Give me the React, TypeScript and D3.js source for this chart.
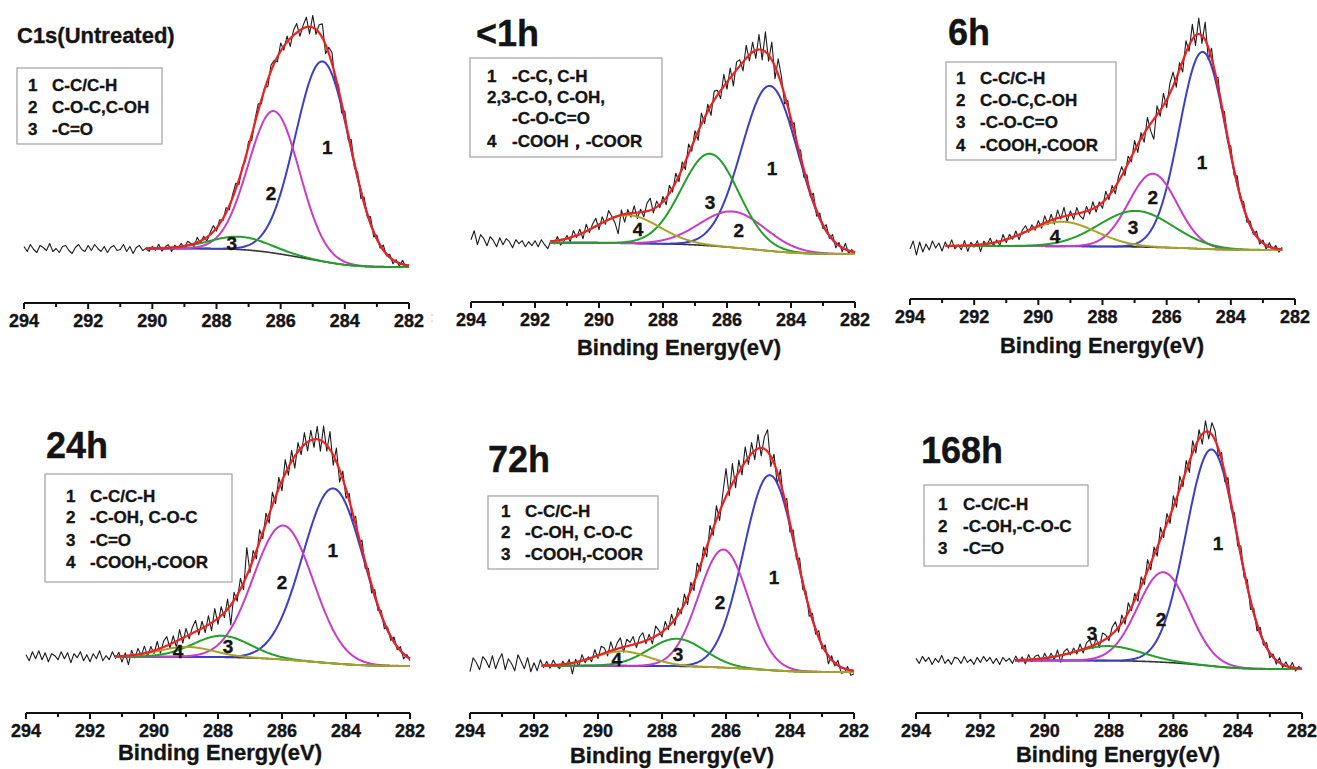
import React from "react";
import * as d3 from "d3";

// ---------------- data ----------------
const panelTitles = ["C1s(Untreated)", "<1h", "6h", "24h", "72h", "168h"];
const majorTicks = [294, 292, 290, 288, 286, 284, 282];
const minorTicks = [293, 291, 289, 287, 285, 283];
const axisTitle = "Binding Energy(eV)";
const showAxisTitle = [false, true, true, true, true, true];

// fitted components (binding energy centre, height in a.u., FWHM in eV)
const peakCenters = [
  [284.69, 286.21, 287.27],
  [284.66, 285.82, 286.53, 289.1],
  [284.88, 286.43, 286.96, 289.27],
  [284.4, 285.96, 287.88, 288.98],
  [284.63, 286.08, 287.54, 289.26],
  [284.81, 286.31, 288.02],
];
const peakHeights = [
  [200, 142, 12.8],
  [165, 36, 92, 28],
  [197, 73.5, 36, 24.5],
  [175, 134, 21.5, 10],
  [195, 118, 27.5, 14.5],
  [216.6, 90, 14.6],
];
const peakFwhm = [
  [2.0, 1.87, 2.2],
  [2.08, 2.4, 2.1, 2.3],
  [1.71, 1.77, 2.7, 2.5],
  [2.24, 2.2, 2.1, 2.0],
  [1.93, 1.82, 2.03, 2.0],
  [1.87, 1.87, 2.4],
];
const fitStartEV = [290.2, 291.53, 292.9, 291.22, 291.76, 290.92];
const dataEndEV = [282, 282, 282.4, 282, 282, 282];
const backgroundStep = [18.5, 11.3, 4, 9.3, 6.3, 8.6];
const rawStartEV = 294;
const rawStepEV = 0.1;

// residuals of the measured spectrum about the fit, every 0.1 eV from 294 eV
const residuals1 = [
  2, -3, 4, -1, -4, 3, 1, -2, 5, -3,
  0, -4, 2, 3, -2, -5, 1, 4, -1, -3,
  3, -2, 4, 0, -3, 2, -4, 1, 3, -2,
  -1, 4, -3, 2, -5, 1, 3, -2, 0, -3,
  2, -2, 4, -3, 1, 3, -4, 2, -1, 3,
  -2, 4, 1, -3, 5, -2, 3, -4, 2, 6,
  -3, 4, -2, 5, -4, 3, 6, -5, 2, -3,
  5, -6, 3, 7, -4, 2, -7, 6, 3, -5,
  8, -4, 6, -8, 5, 9, -6, 3, 10, -7,
  12, -5, 8, 14, -9, 6, 11, -8, 4, -10,
  7, -6, 9, -4, 5, -8, 6, -3, 7, -5,
  4, -3, 5, -2, 3, -4, 2, -3, 4, -2,
  1,
];
const residuals2 = [
  3, 12, -2, 8, 4, -3, 6, 2, -4, 5,
  -2, 4, 1, -5, 3, -1, 2, -4, 1, -3,
  2, -4, 3, -2, -6, 1, -3, 4, -5, -2,
  3, -4, 6, -2, 5, -6, 7, -3, 4, 8,
  -5, 6, -3, 9, 2, -6, -18, 5, -8, 4,
  -4, 7, -6, 3, -5, 8, 12, -4, 6, -3,
  5, -7, 8, -4, 9, -6, 7, -8, 10, -5,
  8, -9, 11, -6, 7, -10, 9, 5, -8, 12,
  -7, 10, -12, 8, 6, -9, 13, -6, 10, -8,
  15, -10, 20, -6, 18, -12, 16, 8, -9, 6,
  -7, 9, -5, 7, -8, 6, -4, 8, -6, 5,
  -4, 6, -3, 5, -5, 3, -4, 6, -3, 2,
  -2,
];
const residuals3 = [
  -3, 5, -9, 4, -6, 2, -4, 5, -2, 3,
  -5, 4, -2, 6, -3, 1, -4, 5, -6, 3,
  -2, 4, -7, 3, -1, 5, -3, 2, -4, 6,
  -3, 4, -2, 5, -5, 3, 6, -2, 4, -3,
  5, -4, 7, -3, 6, -5, 8, -2, 9, -6,
  4, -5, 6, -3, -7, 5, -4, 7, -5, 3,
  -6, 8, -4, 6, -7, 5, 9, -6, 7, -5,
  10, -8, 6, -9, 11, -7, -20, 9, -6, 12,
  -8, 10, 14, -9, 7, -11, 12, -6, 15, -10,
  16, -8, 18, -12, 10, -7, 9, -6, 8, -5,
  7, -6, 8, -4, 6, -5, 4, -3, 5, -4,
  3, -4, 4, -2, 3, -3, 2,
];
const residuals4 = [
  2, -4, 5, -2, 6, -3, 4, -5, 3, 1,
  -3, 5, -2, 4, -6, 3, -1, 5, -4, 2,
  -5, 3, -2, 6, -4, 1, -3, 5, -2, 4,
  -6, 3, -9, 5, -3, 6, -2, 7, -4, 5,
  -3, 8, -5, 6, 9, -4, 7, -6, 10, -5,
  8, -4, 6, 11, -5, 7, -6, 9, -8, 12,
  -6, 9, -5, 10, -20, 8, -6, 11, -7, 28,
  -5, 9, -8, 12, -6, 10, -9, 13, -7, 11,
  -10, 14, -8, 11, -12, 9, -7, 12, -9, 10,
  -8, 13, -11, 16, -6, 18, -10, 14, -12, 8,
  -9, 7, -10, 8, -6, 9, -7, 5, -8, 6,
  -5, 4, -6, 3, -4, 5, -3, 4, -5, 2,
  -2,
];
const residuals5 = [
  -6, 8, 3, -4, 9, 5, -2, 10, -3, 6,
  12, -4, 7, 2, -5, 11, 4, -3, 8, -6,
  3, -5, 6, -2, 4, -3, 5, -1, -4, 3,
  -2, 4, -11, 3, -5, 6, -3, 2, -4, 7,
  -3, 8, 5, -4, 9, -2, 6, 10, -5, 7,
  3, 8, -4, 6, 9, -3, 5, -6, 10, 4,
  -5, 8, -3, 9, -6, 7, -4, 10, -7, 8,
  -8, 11, -6, 9, -10, 12, -7, 14, -9, 10,
  28, -6, 20, -10, 12, -8, 15, -7, 11, -9,
  14, -8, 12, 22, -10, 9, -12, 13, -7, 10,
  -9, 8, -6, 10, -7, 5, -8, 6, -5, 7,
  -4, 6, -8, 4, -3, 5, -6, -4, 3, -5,
  -3,
];
const residuals6 = [
  2, -3, 4, -1, 3, -4, 2, -2, 5, -3,
  1, -4, 3, 2, -3, 4, -2, 1, -4, 3,
  -2, 4, -1, 3, -3, 2, -4, 3, -1, 2,
  -3, 4, -2, 3, -4, 5, -2, 3, 4, -3,
  5, -2, 4, -3, 6, -7, 3, 5, -2, 4,
  -3, 6, -4, 5, 7, -3, 6, -5, 8, 4,
  -4, 7, 9, -5, 8, -6, 10, -4, 7, -8,
  9, -6, 11, -7, 8, -9, 12, -6, 10, -8,
  11, -9, 13, -7, 10, -11, 12, -8, 9, -10,
  11, -7, 12, 9, -8, 7, -9, 10, -6, 8,
  -8, 9, -6, 7, -9, 5, -7, 6, -4, 5,
  -5, 3, -4, 5, -3, 4, -2, 5, -3, 2,
  -1,
];
const residuals = [residuals1, residuals2, residuals3, residuals4, residuals5, residuals6];

// legends
const legendNums = [
  ["1", "2", "3"],
  ["1", "2,3-C-O, C-OH,", "", "4"],
  ["1", "2", "3", "4"],
  ["1", "2", "3", "4"],
  ["1", "2", "3"],
  ["1", "2", "3"],
];
const legendTexts = [
  ["C-C/C-H", "C-O-C,C-OH", "-C=O"],
  ["-C-C, C-H", "", "-C-O-C=O", "-COOH，-COOR"],
  ["C-C/C-H", "C-O-C,C-OH", "-C-O-C=O", "-COOH,-COOR"],
  ["C-C/C-H", "-C-OH, C-O-C", "-C=O", "-COOH,-COOR"],
  ["C-C/C-H", "-C-OH, C-O-C", "-COOH,-COOR"],
  ["C-C/C-H", "-C-OH,-C-O-C", "-C=O"],
];
// peak number annotations, placed in data coordinates (eV, a.u.)
const peakLabelEV = [
  [284.55, 286.3, 287.52],
  [284.59, 285.63, 286.53, 288.78],
  [284.9, 286.43, 287.05, 289.48],
  [284.41, 286.0, 287.69, 289.25],
  [284.5, 286.19, 287.5, 289.41],
  [284.61, 286.38, 288.53],
];
const peakLabelI = [
  [120, 74, 24],
  [86, 24, 52, 25],
  [88, 53, 23, 14],
  [116, 84, 20, 15],
  [95, 70, 18, 13],
  [126, 50, 36],
];

// ---------------- layout / style ----------------
const axisLeftPx = [24, 471, 910, 26, 470, 916];
const axisRightPx = [409, 855, 1295, 410, 854, 1302];
const axisYPx = [303, 302, 299, 713, 713, 713];
const baseYPx = [267, 254, 250, 666, 672, 669];
const titleXPx = [17, 476, 948, 46, 488, 921];
const titleYPx = [43, 46, 45, 458, 472, 463];
const titleSize = [22, 36, 36, 36, 36, 36];
const legendBoxPx = [
  [17, 68, 162, 144],
  [470, 58, 662, 157],
  [946, 62, 1116, 160],
  [45, 474, 232, 582],
  [488, 496, 658, 569],
  [924, 485, 1088, 566],
];
const legendNumXPx = [28, 487, 956, 66, 501, 938];
const legendTextXPx = [52, 512, 980, 90, 525, 963];
const legendLineYPx = [
  [91, 113, 135],
  [82, 103, 124, 147],
  [84, 106, 128, 151],
  [502, 523, 546, 568],
  [517, 538, 560],
  [510, 532, 554],
];
const axisTitleXPx = [0, 679, 1102, 220, 672, 1118];
const axisTitleYPx = [0, 355, 353, 760, 763, 762];
const componentColors = ["#3b3fc4", "#c83cc8", "#22a02a", "#a8a22a"];
const fitColor = "#f02020";
const rawColor = "#1c1c1c";
const FONT = "'Liberation Sans', Arial, Helvetica, sans-serif";
const TEXT_INK = "#141414";

function gauss(x: number, c: number, h: number, w: number) {
  const d = (x - c) / w;
  return h * Math.exp(-4 * Math.LN2 * d * d);
}

function Panel({ i }: { i: number }) {
  const x = d3.scaleLinear().domain([294, 282]).range([axisLeftPx[i], axisRightPx[i]]);
  const y = d3.scaleLinear().domain([0, 250]).range([baseYPx[i], baseYPx[i] - 250]);
  const cs = peakCenters[i];
  const hs = peakHeights[i];
  const ws = peakFwhm[i];
  const start = fitStartEV[i];
  const end = dataEndEV[i];
  const step = backgroundStep[i];
  const sumPeaks = (e: number) => cs.reduce((s, c, k) => s + gauss(e, c, hs[k], ws[k]), 0);

  // Shirley-type background on a fine grid (from low to high binding energy)
  const dE = 0.02;
  const grid = d3.range(end, start + 1e-9, dE);
  const cum: number[] = [0];
  for (let k = 1; k < grid.length; k++) {
    cum.push(cum[k - 1] + 0.5 * (sumPeaks(grid[k]) + sumPeaks(grid[k - 1])) * dE);
  }
  const total = cum[cum.length - 1];
  const bgAt = (e: number) => {
    if (e >= start) return step;
    if (e <= end) return 0;
    const idx = Math.max(0, Math.min(grid.length - 1, Math.round((e - end) / dE)));
    return (step * cum[idx]) / total;
  };
  const bgPts = grid.map((e, k) => [e, (step * cum[k]) / total] as [number, number]);

  const line = d3
    .line<[number, number]>()
    .x((d) => x(d[0]))
    .y((d) => y(d[1]));

  const res = residuals[i];
  const rawPts: [number, number][] = res.map((r, k) => {
    const e = rawStartEV - k * rawStepEV;
    return [e, bgAt(e) + (e <= start ? sumPeaks(e) : 0) + r];
  });

  const compPaths = cs.map((c, k) =>
    line(bgPts.map(([e, b]) => [e, b + gauss(e, c, hs[k], ws[k])] as [number, number]))
  );
  const fitPath = line(bgPts.map(([e, b]) => [e, b + sumPeaks(e)] as [number, number]));
  const bgPath = line(bgPts);
  const box = legendBoxPx[i];
  const ay = axisYPx[i];
  const ink = { fill: TEXT_INK, stroke: TEXT_INK, strokeWidth: 0.35 };

  return (
    <g>
      <path d={line(rawPts) || ""} fill="none" stroke={rawColor} strokeWidth={1.1} strokeLinejoin="round" />
      <path d={bgPath || ""} fill="none" stroke="#333" strokeWidth={1.6} />
      {compPaths.map((p, k) => (
        <path key={k} d={p || ""} fill="none" stroke={componentColors[k]} strokeWidth={2} />
      ))}
      <path d={fitPath || ""} fill="none" stroke={fitColor} strokeWidth={2.2} />

      {peakLabelEV[i].map((e, k) => (
        <text
          key={k}
          x={x(e)}
          y={y(peakLabelI[i][k])}
          textAnchor="middle"
          dominantBaseline="central"
          fontFamily={FONT}
          fontWeight="bold"
          fontSize={19}
          {...ink}
        >
          {k + 1}
        </text>
      ))}

      {/* axis */}
      <line x1={x(294)} x2={x(282)} y1={ay} y2={ay} stroke="#111" strokeWidth={2} />
      {majorTicks.map((t) => (
        <g key={t}>
          <line x1={x(t)} x2={x(t)} y1={ay} y2={ay + 6} stroke="#111" strokeWidth={2} />
          <text x={x(t)} y={ay + 24} textAnchor="middle" fontFamily={FONT} fontWeight="bold" fontSize={18} {...ink}>
            {t}
          </text>
        </g>
      ))}
      {minorTicks.map((t) => (
        <line key={t} x1={x(t)} x2={x(t)} y1={ay} y2={ay + 4} stroke="#111" strokeWidth={2} />
      ))}
      {showAxisTitle[i] && (
        <text
          x={axisTitleXPx[i]}
          y={axisTitleYPx[i]}
          textAnchor="middle"
          fontFamily={FONT}
          fontWeight="bold"
          fontSize={22}
          {...ink}
        >
          {axisTitle}
        </text>
      )}

      {/* title */}
      <text x={titleXPx[i]} y={titleYPx[i]} fontFamily={FONT} fontWeight="bold" fontSize={titleSize[i]} {...ink}>
        {panelTitles[i]}
      </text>

      {/* legend */}
      <rect
        x={box[0]}
        y={box[1]}
        width={box[2] - box[0]}
        height={box[3] - box[1]}
        fill="white"
        stroke="#a0a0a0"
        strokeWidth={1.2}
      />
      {legendNums[i].map((n, k) => (
        <g key={k}>
          <text x={legendNumXPx[i]} y={legendLineYPx[i][k]} fontFamily={FONT} fontWeight="bold" fontSize={17} {...ink}>
            {n}
          </text>
          <text x={legendTextXPx[i]} y={legendLineYPx[i][k]} fontFamily={FONT} fontWeight="bold" fontSize={17} {...ink}>
            {legendTexts[i][k]}
          </text>
        </g>
      ))}
    </g>
  );
}

export default function App() {
  return (
    <svg
      width={1317}
      height={769}
      viewBox="0 0 1317 769"
      style={{ position: "absolute", left: 0, top: 0, display: "block", background: "white" }}
    >
      <rect x={0} y={0} width={1317} height={769} fill="white" />
      {panelTitles.map((_, i) => (
        <Panel key={i} i={i} />
      ))}
      <text x={430} y={322} fontFamily={FONT} fontSize={14} fill="#c8c8c8">
        :
      </text>
    </svg>
  );
}
